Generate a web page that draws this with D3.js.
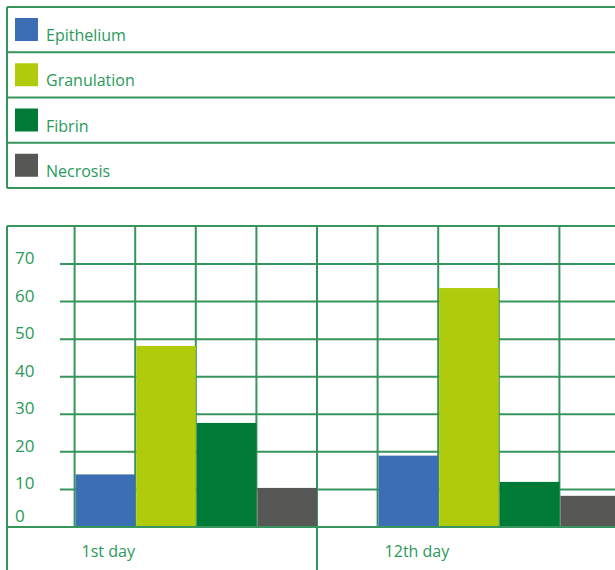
<!DOCTYPE html>
<html>
<head>
<meta charset="utf-8">
<script src="https://cdn.jsdelivr.net/npm/d3@7"></script>
<style>
  html, body { margin: 0; padding: 0; background: #fff; }
  svg { display: block; font-family: "Open Sans", sans-serif; }
</style>
</head>
<body>
<div id="chart"></div>
<script>
// Wound tissue composition (%) by day
const categories = ["1st day", "12th day"];
const seriesNames = ["Epithelium", "Granulation", "Fibrin", "Necrosis"];
const seriesColors = ["#3b6eb4", "#b0ca0c", "#007a37", "#575756"];
const epithelium = [14, 19];
const granulation = [48.2, 63.6];
const fibrin = [27.7, 12];
const necrosis = [10.4, 8.3];
const yTicks = [0, 10, 20, 30, 40, 50, 60, 70];

const seriesValues = [epithelium, granulation, fibrin, necrosis];

const W = 615, H = 570;
const lineColor = "#36955c";
const textColor = "#2a9a5a";

const svg = d3.select("#chart").append("svg")
  .attr("width", W).attr("height", H);

// ---- Legend table ----
const legendLeft = 7;
const legendY = d3.scaleBand().domain(seriesNames).range([7, 188]);

const legend = svg.append("g");
const rowEdges = seriesNames.map(s => legendY(s)).concat([legendY.range()[1]]);
legend.selectAll("line.row").data(rowEdges).join("line")
  .attr("x1", legendLeft).attr("x2", W)
  .attr("y1", d => d).attr("y2", d => d)
  .attr("stroke", lineColor).attr("stroke-width", 2);
legend.append("line")
  .attr("x1", legendLeft).attr("x2", legendLeft)
  .attr("y1", legendY.range()[0]).attr("y2", legendY.range()[1])
  .attr("stroke", lineColor).attr("stroke-width", 2);

const items = legend.selectAll("g.item").data(seriesNames).join("g")
  .attr("transform", d => `translate(0,${legendY(d)})`);
items.append("rect")
  .attr("x", 15).attr("y", 11).attr("width", 23).attr("height", 23)
  .attr("fill", (d, i) => seriesColors[i]);
items.append("text")
  .attr("x", 46).attr("y", 34)
  .attr("fill", textColor).attr("font-size", 16)
  .text(d => d);

// ---- Bar chart ----
const chartTop = 226;
const y = d3.scaleLinear().domain([0, 70]).range([527, 264]);
const x = d3.scaleBand().domain(categories).range([14, 620]);
const slots = ["label"].concat(seriesNames);
const xSub = d3.scaleBand().domain(slots).range([0, x.bandwidth()]);

const grid = svg.append("g").attr("stroke", lineColor).attr("stroke-width", 2);

// frame top
grid.append("line")
  .attr("x1", 7).attr("x2", W).attr("y1", chartTop).attr("y2", chartTop);

// horizontal tick lines
grid.selectAll("line.h").data(yTicks.filter(v => v > 0)).join("line")
  .attr("x1", 60).attr("x2", W)
  .attr("y1", d => y(d)).attr("y2", d => y(d));

// vertical lines between bar slots
const innerX = [];
categories.forEach(c => seriesNames.forEach(s => innerX.push(x(c) + xSub(s))));
grid.selectAll("line.v").data(innerX).join("line")
  .attr("x1", d => d).attr("x2", d => d)
  .attr("y1", chartTop).attr("y2", y(0));

// category dividers reaching the label row
const dividers = [7].concat(categories.slice(1).map(c => x(c)));
grid.selectAll("line.d").data(dividers).join("line")
  .attr("x1", d => d).attr("x2", d => d)
  .attr("y1", chartTop).attr("y2", H);

// bars
const bars = svg.append("g");
categories.forEach((c, ci) => {
  seriesNames.forEach((s, si) => {
    const v = seriesValues[si][ci];
    bars.append("rect")
      .attr("x", x(c) + xSub(s) + 1)
      .attr("width", xSub.bandwidth() - 1)
      .attr("y", y(v))
      .attr("height", y(0) - y(v))
      .attr("fill", seriesColors[si]);
  });
});

// baseline axis
svg.append("line")
  .attr("x1", 7).attr("x2", W).attr("y1", y(0)).attr("y2", y(0))
  .attr("stroke", lineColor).attr("stroke-width", 2);

// y labels
svg.append("g").selectAll("text").data(yTicks).join("text")
  .attr("x", 15)
  .attr("y", d => Math.min(y(d), y(0) - 5))
  .attr("fill", textColor).attr("font-size", 17)
  .text(d => d);

// category labels
svg.append("g").selectAll("text").data(categories).join("text")
  .attr("x", d => x(d) + xSub.bandwidth() + 7)
  .attr("y", 557)
  .attr("fill", textColor).attr("font-size", 16)
  .text(d => d);
</script>
</body>
</html>
